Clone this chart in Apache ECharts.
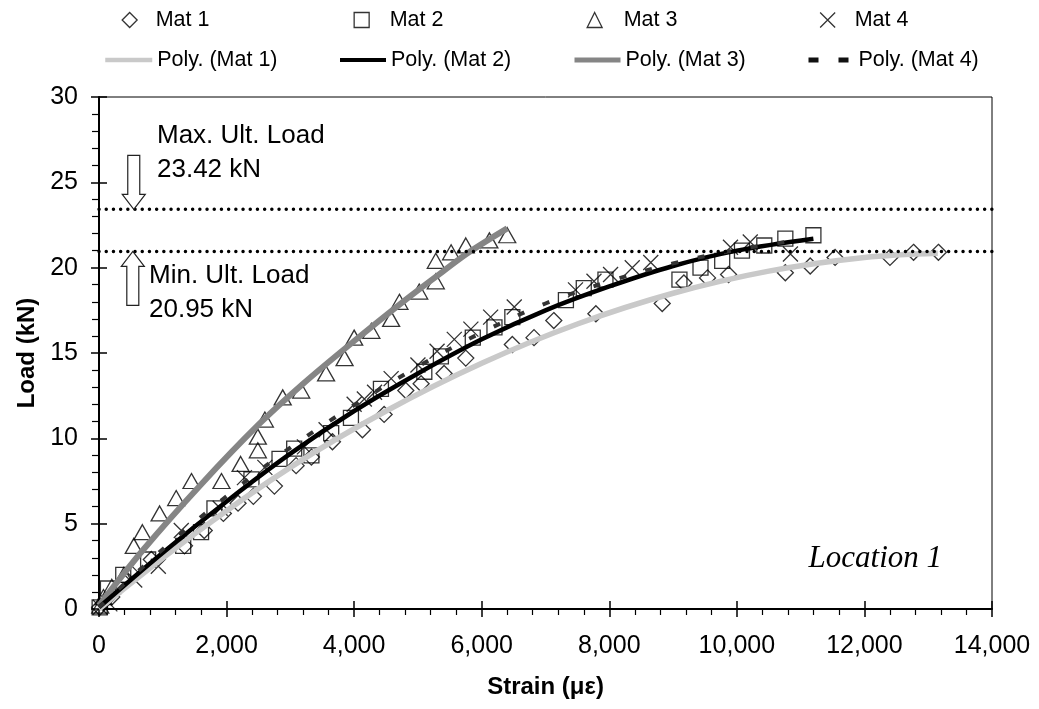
<!DOCTYPE html>
<html>
<head>
<meta charset="utf-8">
<title>Load vs Strain - Location 1</title>
<script src="https://cdn.jsdelivr.net/npm/echarts@6/dist/echarts.min.js"></script>
<style>
  html, body { margin: 0; padding: 0; background: #ffffff; }
  #chart { width: 1039px; height: 709px; }
</style>
</head>
<body>
<div id="chart"></div>
<script>
// ---- Measured points: strain (micro-strain) and load (kN) ----
const strainMat1 = [10, 200, 500, 820, 1340, 1650, 1950, 2180, 2420, 2750, 3090, 3330, 3660, 4130, 4470, 4810, 5050, 5410, 5750, 6480, 6820, 7130, 7790, 8830, 9170, 9540, 9870, 10760, 11150, 11540, 12400, 12770, 13160];
const loadMat1   = [0.1, 0.7, 2.1, 2.9, 3.7, 4.6, 5.6, 6.2, 6.6, 7.2, 8.4, 8.9, 9.8, 10.5, 11.4, 12.8, 13.2, 13.8, 14.7, 15.5, 15.9, 16.9, 17.3, 17.9, 19.1, 19.4, 19.6, 19.7, 20.1, 20.6, 20.6, 20.9, 20.9];

const strainMat2 = [10, 140, 380, 770, 1320, 1600, 1810, 2390, 2830, 3060, 3330, 3640, 3950, 4420, 5100, 5360, 5860, 6200, 6480, 7320, 7600, 7940, 9100, 9430, 9770, 10080, 10430, 10760, 11200];
const loadMat2   = [0.1, 1.2, 2.0, 2.9, 3.7, 4.5, 5.9, 7.6, 8.8, 9.4, 9.0, 10.3, 11.2, 12.9, 13.9, 14.8, 15.9, 16.5, 17.1, 18.1, 18.8, 19.3, 19.3, 20.0, 20.4, 21.0, 21.3, 21.7, 21.9];

const strainMat3 = [20, 70, 200, 390, 545, 680, 950, 1210, 1450, 1920, 2220, 2490, 2490, 2600, 2880, 3170, 3560, 3850, 4000, 4270, 4580, 4710, 5020, 5280, 5280, 5520, 5750, 6120, 6400];
const loadMat3   = [0.2, 0.7, 1.3, 2.0, 3.7, 4.5, 5.6, 6.5, 7.5, 7.5, 8.5, 9.3, 10.1, 11.1, 12.4, 12.8, 13.8, 14.7, 15.9, 16.3, 17.0, 18.0, 18.6, 19.2, 20.4, 20.9, 21.3, 21.6, 21.9];

const strainMat4 = [20, 170, 560, 930, 1290, 1900, 2280, 2600, 3220, 3560, 4000, 4160, 4320, 4580, 5000, 5300, 5570, 5830, 6140, 6510, 7470, 7760, 8020, 8360, 8650, 9900, 10210, 10840];
const loadMat4   = [0.1, 0.3, 1.7, 2.5, 4.6, 5.9, 7.7, 8.3, 9.5, 10.5, 12.0, 12.3, 12.7, 13.5, 14.3, 15.1, 15.8, 16.4, 17.1, 17.7, 18.7, 19.2, 19.6, 20.0, 20.3, 21.2, 21.5, 20.8];

// ---- Polynomial trend curves (sampled) ----
const trendStrain1 = [0, 1500, 3000, 4500, 6000, 7500, 9000, 10500, 12000, 13150];
const trendLoad1   = [0, 4.4, 8.3, 11.6, 14.4, 16.7, 18.5, 19.8, 20.6, 20.85];
const trendStrain2 = [0, 1000, 2000, 3000, 4000, 5000, 6000, 7000, 8000, 9000, 10000, 11200];
const trendLoad2   = [0.1, 3.3, 6.3, 9.1, 11.6, 13.8, 15.8, 17.5, 18.9, 20.1, 21.0, 21.7];
const trendStrain3 = [0, 700, 1600, 2500, 3200, 4000, 4800, 5400, 5800, 6400];
const trendLoad3   = [0.2, 3.5, 7.3, 10.8, 13.2, 15.7, 18.1, 19.8, 20.9, 22.3];
const trendStrain4 = [0, 1000, 2000, 3000, 4000, 5000, 6000, 7000, 8000, 9000, 10000, 10840];
const trendLoad4   = [0.1, 3.5, 6.6, 9.45, 11.95, 14.2, 16.2, 17.9, 19.2, 20.25, 21.05, 21.55];

// ---- Ultimate load levels (kN) ----
const ultLoadMax = 23.42;
const ultLoadMin = 20.95;

// ---- Axis settings ----
const strainTicks = { min: 0, max: 14000, interval: 2000 };
const loadTicks = { min: 0, max: 30, interval: 5 };

const seriesNames = ['Mat 1', 'Mat 2', 'Mat 3', 'Mat 4'];
const trendNames = ['Poly. (Mat 1)', 'Poly. (Mat 2)', 'Poly. (Mat 3)', 'Poly. (Mat 4)'];

const pair = (xs, ys) => xs.map((x, i) => [x, ys[i]]);

const FONT = '"Liberation Sans", Arial, sans-serif';

const crossPath = 'path://M0 0L14 14M14 0L0 14';
const hollow = { color: 'rgba(0,0,0,0)', borderColor: '#000', borderWidth: 1.3 };

// trend line styles for the curves, and for their legend keys
const trendStyles = [
  { color: '#c9c9c9', width: 5.5, type: 'solid' },
  { color: '#000000', width: 4.5, type: 'solid' },
  { color: '#858585', width: 6, type: 'solid' },
  { color: '#333333', width: 4, type: [7, 20] }
];
const trendKeyStyles = [
  { color: '#c9c9c9', width: 4.5, type: 'solid' },
  { color: '#000000', width: 4, type: 'solid' },
  { color: '#858585', width: 5, type: 'solid' },
  { color: '#111111', width: 5, type: [10, 20] }
];

function scatterSeries(name, xs, ys, symbol, size) {
  return {
    name, type: 'scatter', data: pair(xs, ys), symbol, symbolSize: size,
    itemStyle: hollow, z: 2, silent: true
  };
}

function trendSeries(name, xs, ys, lineStyle, z) {
  return {
    name, type: 'line', data: pair(xs, ys), smooth: 0.35, symbol: 'none',
    itemStyle: { color: lineStyle.color },
    lineStyle, z, silent: true
  };
}

function levelSeries(level) {
  return {
    type: 'line', data: [[strainTicks.min, level], [strainTicks.max, level]],
    symbol: 'none', silent: true, z: 6,
    lineStyle: { color: '#000', width: 3.4, type: [0.1, 7.1], cap: 'round' }
  };
}

// Legend: one component per entry so every key sits in its own column
const row1IconLeft = [121.5, 353.5, 586.5, 819.5];
const row1TextPad = [13.5, 15.5, 16.5, 14.5];
const row2Left = [103, 338, 572, 806];
const row2Width = [47, 46, 46, 45];
const legendText = { fontFamily: FONT, fontSize: 21.5, color: '#000' };
const legends = [];
seriesNames.forEach((n, i) => {
  legends.push({
    data: [n], left: row1IconLeft[i], top: 9, itemWidth: 15, itemHeight: 15,
    selectedMode: false, padding: 0,
    itemStyle: { color: 'rgba(0,0,0,0)', borderColor: '#000', borderWidth: 1.3 },
    textStyle: Object.assign({ padding: [0, 0, 0, row1TextPad[i]] }, legendText)
  });
});
trendNames.forEach((n, i) => {
  legends.push({
    data: [n], left: row2Left[i], top: 49, itemWidth: row2Width[i], itemHeight: 14,
    selectedMode: false, padding: 0,
    itemStyle: { color: 'rgba(0,0,0,0)', borderColor: 'rgba(0,0,0,0)', borderWidth: 0, opacity: 0 },
    lineStyle: Object.assign({ opacity: 1 }, trendKeyStyles[i]),
    textStyle: legendText
  });
});

const tickLabel = { fontFamily: FONT, fontSize: 25, color: '#000' };

const chart = echarts.init(document.getElementById('chart'), null, { renderer: 'canvas' });

chart.setOption({
  animation: false,
  backgroundColor: '#ffffff',
  legend: legends,
  grid: {
    left: 99, right: 47, top: 97, bottom: 100,
    show: true, borderColor: '#000', borderWidth: 1, backgroundColor: 'transparent'
  },
  xAxis: [
    {
      type: 'value', min: strainTicks.min, max: strainTicks.max, interval: strainTicks.interval,
      name: 'Strain (\u03bc\u03b5)', nameLocation: 'middle', nameGap: 66,
      nameTextStyle: { fontFamily: FONT, fontSize: 24, fontWeight: 'bold', color: '#000' },
      axisLine: { show: true, onZero: false, lineStyle: { color: '#000', width: 2 } },
      axisTick: { show: true, inside: false, length: 8, lineStyle: { color: '#000', width: 1.5 } },
      minorTick: { show: true, splitNumber: 5, length: 6, lineStyle: { color: '#000', width: 1.2 } },
      axisLabel: Object.assign({ margin: 25, formatter: v => v.toLocaleString('en-US') }, tickLabel),
      splitLine: { show: false }
    },
    {
      // inner half of the major ticks on the strain axis
      type: 'value', position: 'bottom', min: strainTicks.min, max: strainTicks.max, interval: strainTicks.interval,
      axisLine: { show: false }, axisLabel: { show: false }, splitLine: { show: false },
      axisTick: { show: true, inside: true, length: 8, lineStyle: { color: '#000', width: 1.5 } }
    }
  ],
  yAxis: [
    {
      type: 'value', min: loadTicks.min, max: loadTicks.max, interval: loadTicks.interval,
      name: 'Load (kN)', nameLocation: 'middle', nameGap: 56,
      nameTextStyle: { fontFamily: FONT, fontSize: 24, fontWeight: 'bold', color: '#000' },
      axisLine: { show: true, onZero: false, lineStyle: { color: '#000', width: 2 } },
      axisTick: { show: true, inside: false, length: 8, lineStyle: { color: '#000', width: 1.5 } },
      minorTick: { show: true, splitNumber: 5, length: 7, lineStyle: { color: '#000', width: 1.2 } },
      axisLabel: Object.assign({ margin: 21 }, tickLabel),
      splitLine: { show: false }
    },
    {
      // inner half of the major ticks on the load axis
      type: 'value', position: 'left', min: loadTicks.min, max: loadTicks.max, interval: loadTicks.interval,
      axisLine: { show: false }, axisLabel: { show: false }, splitLine: { show: false },
      axisTick: { show: true, inside: true, length: 8, lineStyle: { color: '#000', width: 1.5 } }
    }
  ],
  series: [
    scatterSeries(seriesNames[0], strainMat1, loadMat1, 'diamond', 16),
    scatterSeries(seriesNames[1], strainMat2, loadMat2, 'rect', 15),
    scatterSeries(seriesNames[2], strainMat3, loadMat3, 'triangle', [17, 15]),
    scatterSeries(seriesNames[3], strainMat4, loadMat4, crossPath, 15),
    trendSeries(trendNames[0], trendStrain1, trendLoad1, trendStyles[0], 3),
    trendSeries(trendNames[1], trendStrain2, trendLoad2, trendStyles[1], 4),
    trendSeries(trendNames[2], trendStrain3, trendLoad3, trendStyles[2], 3),
    trendSeries(trendNames[3], trendStrain4, trendLoad4, trendStyles[3], 5),
    levelSeries(ultLoadMax),
    levelSeries(ultLoadMin),
    {
      // hollow block arrows pointing at the two load levels
      type: 'custom', silent: true, z: 7,
      encode: { x: 0, y: 1 },
      data: [[545, ultLoadMax, -1], [530, ultLoadMin, 1]],
      renderItem(params, api) {
        const p = api.coord([api.value(0), api.value(1)]);
        const s = api.value(2);
        const tx = p[0], ty = p[1];
        const head = 15, hw = 11.5, sw = 6, len = 54;
        const pts = [
          [tx, ty], [tx + hw, ty + s * head], [tx + sw, ty + s * head], [tx + sw, ty + s * len],
          [tx - sw, ty + s * len], [tx - sw, ty + s * head], [tx - hw, ty + s * head]
        ];
        return { type: 'polygon', shape: { points: pts }, style: { fill: '#ffffff', stroke: '#222', lineWidth: 1.2 } };
      }
    }
  ],
  graphic: [
    {
      type: 'text', left: 157, top: 119, z: 10,
      style: { text: 'Max. Ult. Load\n' + ultLoadMax.toFixed(2) + ' kN', font: '26px ' + FONT, lineHeight: 34, fill: '#000' }
    },
    {
      type: 'text', left: 149, top: 259, z: 10,
      style: { text: 'Min. Ult. Load\n' + ultLoadMin.toFixed(2) + ' kN', font: '26px ' + FONT, lineHeight: 34, fill: '#000' }
    },
    {
      type: 'text', right: 97, top: 543, z: 10,
      style: { text: 'Location 1', font: 'italic 31px "Liberation Serif", "Times New Roman", serif', fill: '#000' }
    }
  ]
});
</script>
</body>
</html>
